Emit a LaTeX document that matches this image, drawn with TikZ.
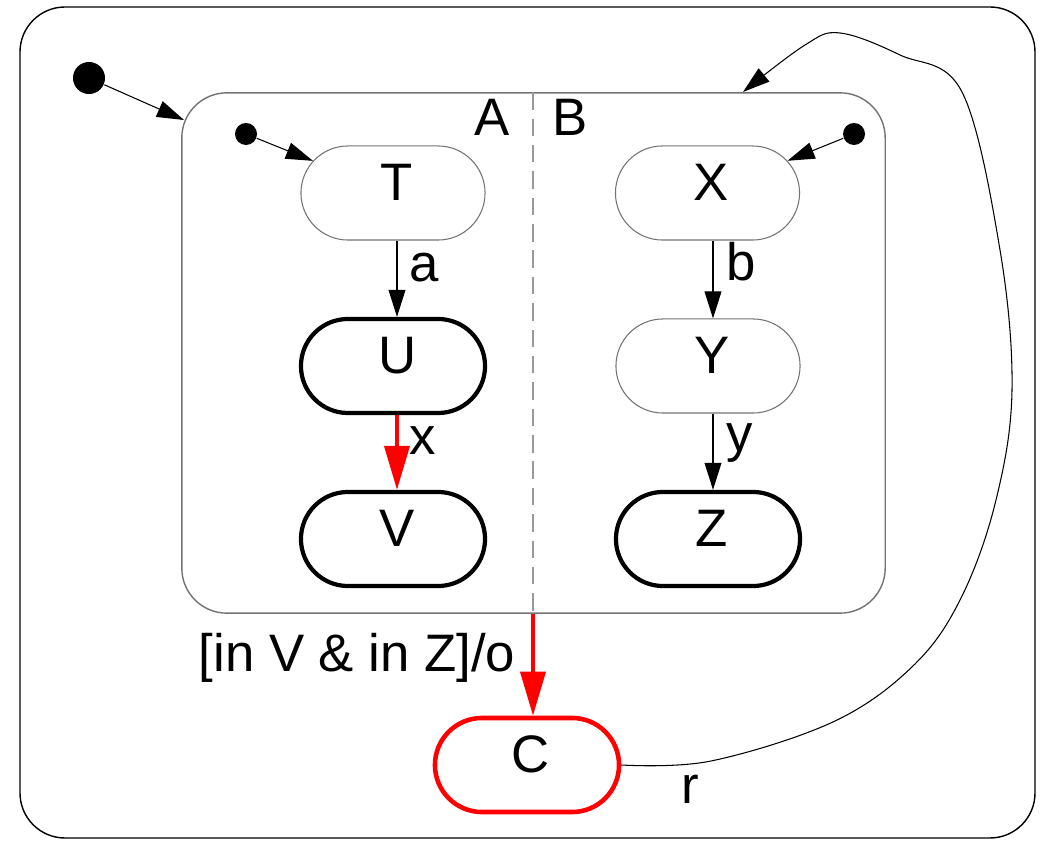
\documentclass[tikz,border=0pt]{standalone}
\usepackage{fontspec}
\setmainfont{Liberation Sans}
\usetikzlibrary{arrows.meta,shapes.misc}
\begin{document}
\begin{tikzpicture}[x=0.01cm,y=-0.01cm,
  font=\fontsize{15}{18}\selectfont,
  st/.style={rounded rectangle, minimum width=1.84cm, minimum height=0.94cm, inner sep=0pt, text height=10.7pt, text depth=6.2pt, execute at begin node={\hspace*{2.3pt}}},
  thinst/.style={st, draw=black!55, line width=0.3pt},
  thickst/.style={st, draw=black, line width=1.2pt},
  redst/.style={st, draw=red, line width=1.3pt},
  tr/.style={-{Triangle[length=7.7pt,width=4.8pt]}, line width=0.3pt},
  redtr/.style={-{Triangle[length=12.5pt,width=7.1pt]}, draw=red, line width=1.1pt},
  dot/.style={circle, fill=black, inner sep=0pt},
  lbl/.style={inner sep=0pt}
]
\useasboundingbox (0,0) rectangle (1042,843);
% outer state
\draw[line width=0.4pt, rounded corners=0.45cm] (20,7) rectangle (1035,838);
% inner concurrent state
\node[draw=black!55, line width=0.4pt, rounded corners=0.45cm, minimum width=7.03cm, minimum height=5.2cm, inner sep=0pt] (AB) at (533.5,353) {};
\coordinate (div) at (533,0);
\draw[black!40, line width=0.45pt, dash pattern=on 5pt off 2.5pt] (AB.north -| div) -- (AB.south -| div);
% states
\node[thinst] (T) at (393,193) {T};
\node[thickst] (U) at (393,366) {U};
\node[thickst] (V) at (393,539) {V};
\node[thinst] (X) at (707.5,193) {X};
\node[thinst] (Y) at (708,366) {Y};
\node[thickst] (Z) at (708,539) {Z};
\node[redst] (C) at (527,765) {C};
% initial dots
\node[dot, minimum size=0.32cm] (i0) at (89,78) {};
\node[dot, minimum size=0.22cm] (iA) at (246,134) {};
\node[dot, minimum size=0.22cm] (iB) at (854,134) {};
% transitions
\coordinate (ABin) at (184,120);
\draw[tr] (i0) -- (ABin);
\draw[tr] (iA) -- (T);
\draw[tr] (iB) -- (X);
\coordinate (colA) at (397,0);
\coordinate (colB) at (713,0);
\draw[tr] (T.south -| colA) -- (U.north -| colA);
\draw[redtr] (U.south -| colA) -- (V.north -| colA);
\draw[tr] (X.south -| colB) -- (Y.north -| colB);
\draw[tr] (Y.south -| colB) -- (Z.north -| colB);
\draw[redtr] (AB.south -| div) -- (C.north -| div);
\coordinate (rTip) at (743,92);
\draw[tr] plot[smooth, tension=0.6] coordinates {(C.east) (711,761) (835,721) (915,664) (962,596) (996,500) (1012,390) (1000,250) (962,92) (900,55) (840,33) (805,45) (rTip)};
% labels
\node[lbl] (lA) at (492,117) {A};
\node[lbl] (lB) at (570,117) {B};
\node[lbl] (la) at (424,268) {a};
\node[lbl] (lx) at (423,441) {x};
\node[lbl] (lb) at (741,262) {b};
\node[lbl] (ly) at (740,443) {y};
\node[lbl] (lg) at (357,658) {[in V \& in Z]/o};
\node[lbl] (lr) at (690,789) {r};
\end{tikzpicture}
\end{document}
